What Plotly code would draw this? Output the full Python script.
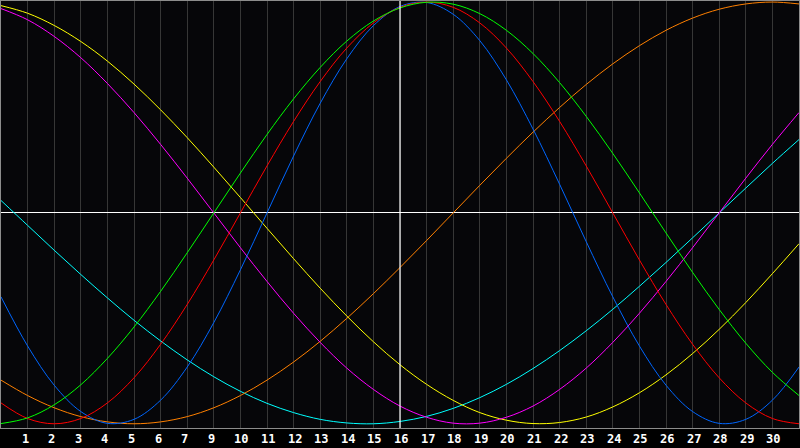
import plotly.graph_objects as go

# day index along the chart (grid lines), 0 = left edge, 30 = right edge
days = list(range(31))

# cycle values in percent, read per day off the chart
physical_23 = [-39.8, -63.1, -81.7, -94.2, -99.8, -97.9, -88.8, -73.1, -52.0, -27.0, 0.0,
               27.0, 52.0, 73.1, 88.8, 97.9, 99.8, 94.2, 81.7, 63.1, 39.8, 13.6, -13.6,
               -39.8, -63.1, -81.7, -94.2, -99.8, -97.9, -88.8, -73.1]
emotional_28 = [-90.1, -97.5, -100.0, -97.5, -90.1, -78.2, -62.3, -43.4, -22.3, 0.0, 22.3,
                43.4, 62.3, 78.2, 90.1, 97.5, 100.0, 97.5, 90.1, 78.2, 62.3, 43.4, 22.3,
                0.0, -22.3, -43.4, -62.3, -78.2, -90.1, -97.5, -100.0]
intellectual_33 = [-99.9, -97.2, -91.0, -81.5, -69.0, -54.1, -37.2, -18.9, 0.0, 18.9, 37.2,
                   54.1, 69.0, 81.5, 91.0, 97.2, 99.9, 99.0, 94.5, 86.6, 75.6, 61.8, 45.8,
                   28.2, 9.5, -9.5, -28.2, -45.8, -61.8, -75.6, -86.6]
intuitive_38 = [96.9, 91.6, 83.7, 73.6, 61.4, 47.6, 32.5, 16.5, 0.0, -16.5, -32.5, -47.6,
                -61.4, -73.6, -83.7, -91.6, -96.9, -99.7, -99.7, -96.9, -91.6, -83.7,
                -73.6, -61.4, -47.6, -32.5, -16.5, 0.0, 16.5, 32.5, 47.6]
aesthetic_43 = [98.3, 94.7, 88.9, 81.3, 72.0, 61.1, 48.9, 35.7, 21.7, 7.3, -7.3, -21.7,
                -35.7, -48.9, -61.1, -72.0, -81.3, -88.9, -94.7, -98.3, -99.9, -99.4,
                -96.8, -92.0, -85.3, -76.8, -66.7, -55.2, -42.5, -28.8, -14.6]
awareness_48 = [-79.3, -86.6, -92.4, -96.6, -99.1, -100.0, -99.1, -96.6, -92.4, -86.6,
                -79.3, -70.7, -60.9, -50.0, -38.3, -25.9, -13.1, 0.0, 13.1, 25.9, 38.3,
                50.0, 60.9, 70.7, 79.3, 86.6, 92.4, 96.6, 99.1, 100.0, 99.1]
spiritual_53 = [5.9, -5.9, -17.7, -29.2, -40.3, -50.9, -60.7, -69.7, -77.7, -84.6, -90.3,
                -94.7, -97.9, -99.6, -100.0, -98.9, -96.5, -92.7, -87.6, -81.3, -73.8,
                -65.3, -55.9, -45.7, -34.8, -23.5, -11.8, 0.0, 11.8, 23.5, 34.8]

# bottom labels, one per inner grid line (the 8 is skipped in the original)
label_pos = list(range(1, 30))
label_text = ["1", "2", "3", "4", "5", "6", "7", "9", "10", "11", "12", "13", "14", "15",
              "16", "17", "18", "19", "20", "21", "22", "23", "24", "25", "26", "27",
              "28", "29", "30"]
today = 15

series = [
    ("Spiritual", spiritual_53, "#00ffff"),
    ("Awareness", awareness_48, "#ff8000"),
    ("Aesthetic", aesthetic_43, "#ffff00"),
    ("Intuitive", intuitive_38, "#ff00ff"),
    ("Physical", physical_23, "#0066ff"),
    ("Emotional", emotional_28, "#ff0000"),
    ("Intellectual", intellectual_33, "#00ff00"),
]

fig = go.Figure()

for name, vals, color in series:
    fig.add_trace(go.Scatter(
        x=days, y=vals, name=name, mode="lines",
        line={"color": color, "width": 1, "shape": "spline", "smoothing": 1.0},
        hoverinfo="skip",
    ))

# white "today" line
fig.add_shape(type="line", xref="x", yref="paper", x0=today, x1=today, y0=0, y1=1,
              line={"color": "#ffffff", "width": 1.2}, layer="above")

for pos, txt in zip(label_pos, label_text):
    fig.add_annotation(
        x=pos, y=0, xref="x", yref="paper", text="<b>" + txt + "</b>", showarrow=False,
        xanchor="left", yanchor="top", xshift=-8, yshift=-2,
        font={"family": "DejaVu Sans Mono", "size": 12, "color": "#ffffff"},
    )

fig.update_layout(
    width=800, height=448,
    margin={"l": 1, "r": 1, "t": 1, "b": 20},
    paper_bgcolor="#000000",
    plot_bgcolor="#060609",
    showlegend=False,
    font={"family": "DejaVu Sans Mono", "size": 12, "color": "#ffffff"},
)
fig.update_xaxes(
    range=[0, 30], dtick=1, tick0=0, showticklabels=False, ticks="",
    showgrid=True, gridcolor="#363636", gridwidth=1, zeroline=False,
    showline=True, linecolor="#8c8c8c", linewidth=1, mirror=True,
)
fig.update_yaxes(
    range=[-102, 100.5], showticklabels=False, ticks="", showgrid=False,
    zeroline=True, zerolinecolor="#ffffff", zerolinewidth=1.2,
    showline=True, linecolor="#8c8c8c", linewidth=1, mirror=True,
)

fig.write_html(
    "out.html",
    config={"displayModeBar": False},
    post_script="document.body.style.margin='0';document.body.style.overflow='hidden';",
)
